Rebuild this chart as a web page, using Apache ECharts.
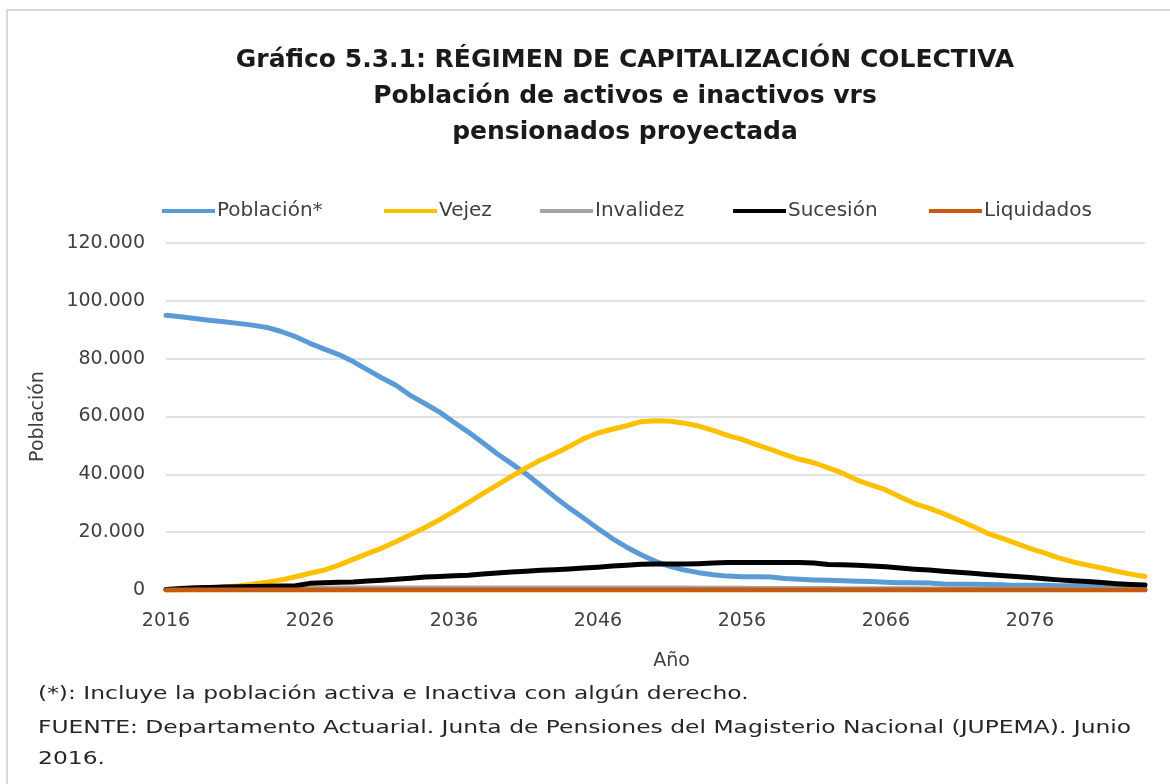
<!DOCTYPE html>
<html>
<head>
<meta charset="utf-8">
<script src="https://cdn.jsdelivr.net/npm/echarts@6/dist/echarts.min.js"></script>
<style>
  html, body { margin: 0; padding: 0; background: #ffffff; }
  #chart { width: 1170px; height: 784px; }
</style>
</head>
<body>
<div id="chart"></div>
<script>
// años 2016 - 2084
const years = [
  2016, 2017, 2018, 2019, 2020, 2021, 2022, 2023, 2024, 2025,
  2026, 2027, 2028, 2029, 2030, 2031, 2032, 2033, 2034, 2035,
  2036, 2037, 2038, 2039, 2040, 2041, 2042, 2043, 2044, 2045,
  2046, 2047, 2048, 2049, 2050, 2051, 2052, 2053, 2054, 2055,
  2056, 2057, 2058, 2059, 2060, 2061, 2062, 2063, 2064, 2065,
  2066, 2067, 2068, 2069, 2070, 2071, 2072, 2073, 2074, 2075,
  2076, 2077, 2078, 2079, 2080, 2081, 2082, 2083, 2084
];

const poblacion = [
  95000, 94500, 93900, 93300, 92800, 92200, 91600, 90800, 89400, 87600,
  85300, 83300, 81400, 79000, 76100, 73300, 70700, 67200, 64400, 61500,
  58000, 54600, 50900, 47100, 43700, 40200, 36200, 32200, 28400, 24900,
  21300, 17800, 14800, 12200, 9900, 8200, 6900, 6000, 5300, 4800,
  4600, 4600, 4500, 4000, 3700, 3500, 3400, 3200, 3000, 2900,
  2700, 2500, 2500, 2400, 2100, 2000, 2000, 1900, 1800, 1600,
  1600, 1600, 1500, 1500, 1400, 1200, 1000, 800, 600
];

const vejez = [
  0, 100, 300, 600, 1000, 1400, 2000, 2700, 3500, 4600,
  5800, 6900, 8600, 10600, 12600, 14500, 16800, 19200, 21600, 24300,
  27200, 30200, 33300, 36300, 39300, 42200, 44900, 47100, 49600, 52300,
  54300, 55600, 56800, 58200, 58500, 58400, 57700, 56700, 55200, 53500,
  52100, 50300, 48600, 46800, 45200, 44000, 42200, 40400, 38000, 36300,
  34600, 32200, 29900, 28300, 26400, 24300, 22100, 19700, 18000, 16200,
  14400, 12800, 11100, 9700, 8600, 7600, 6500, 5500, 4700
];

const invalidez = [
  100, 150, 200, 250, 300, 350, 400, 450, 500, 550,
  600, 600, 650, 650, 700, 700, 700, 700, 700, 700,
  700, 700, 700, 700, 700, 700, 700, 700, 700, 700,
  700, 700, 700, 650, 650, 650, 650, 600, 600, 600,
  600, 550, 550, 550, 500, 500, 500, 450, 450, 450,
  400, 400, 400, 350, 350, 350, 300, 300, 300, 250,
  250, 250, 200, 200, 200, 150, 150, 150, 100
];

const sucesion = [
  200, 500, 800, 900, 1000, 1100, 1200, 1300, 1400, 1500,
  2300, 2500, 2700, 2800, 3100, 3400, 3700, 4100, 4500, 4700,
  4900, 5100, 5500, 5900, 6200, 6500, 6800, 7000, 7300, 7600,
  7900, 8300, 8600, 8900, 9000, 9000, 9000, 9100, 9300, 9500,
  9500, 9500, 9500, 9500, 9500, 9300, 8800, 8700, 8600, 8300,
  8000, 7600, 7200, 6900, 6500, 6100, 5800, 5400, 5000, 4700,
  4300, 3900, 3500, 3200, 2900, 2600, 2200, 1900, 1700
];

const liquidados = [
  0, 0, 0, 0, 0, 0, 0, 0, 0, 0,
  0, 0, 0, 0, 0, 0, 0, 0, 0, 0,
  0, 0, 0, 0, 0, 0, 0, 0, 0, 0,
  0, 0, 0, 0, 0, 0, 0, 0, 0, 0,
  0, 0, 0, 0, 0, 0, 0, 0, 0, 0,
  0, 0, 0, 0, 0, 0, 0, 0, 0, 0,
  0, 0, 0, 0, 0, 0, 0, 0, 0
];

const seriesNames = ['Población*', 'Vejez', 'Invalidez', 'Sucesión', 'Liquidados'];
const seriesColors = ['#5B9BD5', '#FFC000', '#A5A5A5', '#000000', '#C55A11'];
const seriesData = [poblacion, vejez, invalidez, sucesion, liquidados];
const legendLeft = [157, 379, 535, 728, 924];

const yTicks = [0, 20000, 40000, 60000, 80000, 100000, 120000];

const notas = [
  '(*): Incluye la población activa e Inactiva con algún derecho.',
  'FUENTE: Departamento Actuarial. Junta de Pensiones del Magisterio Nacional (JUPEMA). Junio',
  '2016.'
];
const notasTop = [685, 719, 750];

const font = '"DejaVu Sans", sans-serif';
const gris = '#404040';

// separador de miles con punto
function miles(v) {
  return String(v).replace(/\B(?=(\d{3})+(?!\d))/g, '.');
}

const chart = echarts.init(document.getElementById('chart'));

const option = {
  backgroundColor: '#ffffff',
  animation: false,
  graphic: [
    // marco: solo borde superior e izquierdo visibles
    { type: 'line', shape: { x1: 6, y1: 10, x2: 1170, y2: 10 }, style: { stroke: '#d9d9d9', lineWidth: 2 }, silent: true },
    { type: 'line', shape: { x1: 7, y1: 9, x2: 7, y2: 784 }, style: { stroke: '#d9d9d9', lineWidth: 2 }, silent: true }
  ].concat(notas.map((t, k) => ({
    type: 'text',
    x: 38,
    y: notasTop[k],
    scaleX: 1.3,
    silent: true,
    style: {
      text: t,
      fontFamily: font,
      fontSize: 18,
      fill: '#262626'
    }
  }))),
  title: {
    text: 'Gráfico 5.3.1: RÉGIMEN DE CAPITALIZACIÓN COLECTIVA\nPoblación de activos e inactivos vrs\npensionados proyectada',
    left: 620,
    textAlign: 'center',
    top: 37,
    textStyle: {
      fontFamily: font,
      fontSize: 25,
      fontWeight: 'bold',
      color: '#1a1a1a',
      lineHeight: 36
    }
  },
  legend: seriesNames.map((name, k) => ({
    data: [name],
    left: legendLeft[k],
    top: 196,
    icon: 'rect',
    itemWidth: 53,
    itemHeight: 4,
    textStyle: {
      fontFamily: font,
      fontSize: 20,
      color: gris,
      padding: [0, 0, 0, -3]
    }
  })),
  grid: {
    left: 166,
    right: 25,
    top: 243,
    bottom: 194,
    containLabel: false
  },
  xAxis: {
    type: 'category',
    data: years,
    boundaryGap: false,
    name: 'Año',
    nameLocation: 'middle',
    nameGap: 62,
    nameTextStyle: { fontFamily: font, fontSize: 19, color: gris, padding: [0, 0, 0, 32] },
    axisLine: { lineStyle: { color: '#d9d9d9' } },
    axisTick: { show: false },
    axisLabel: {
      interval: 9,
      margin: 22,
      fontFamily: font,
      fontSize: 19,
      color: gris
    },
    splitLine: { show: false }
  },
  yAxis: {
    type: 'value',
    min: yTicks[0],
    max: yTicks[yTicks.length - 1],
    interval: 20000,
    name: 'Población',
    nameLocation: 'middle',
    nameGap: 118,
    nameTextStyle: { fontFamily: font, fontSize: 19, color: gris },
    axisLine: { show: false },
    axisTick: { show: false },
    axisLabel: {
      margin: 21,
      fontFamily: font,
      fontSize: 19,
      color: gris,
      formatter: miles
    },
    splitLine: { lineStyle: { color: '#d9d9d9', width: 1.5 } }
  },
  series: seriesNames.map((name, k) => ({
    name: name,
    type: 'line',
    data: seriesData[k],
    showSymbol: false,
    symbol: 'none',
    smooth: false,
    color: seriesColors[k],
    lineStyle: { width: 5, color: seriesColors[k], cap: 'round', join: 'round' }
  }))
};

chart.setOption(option);
</script>
</body>
</html>
